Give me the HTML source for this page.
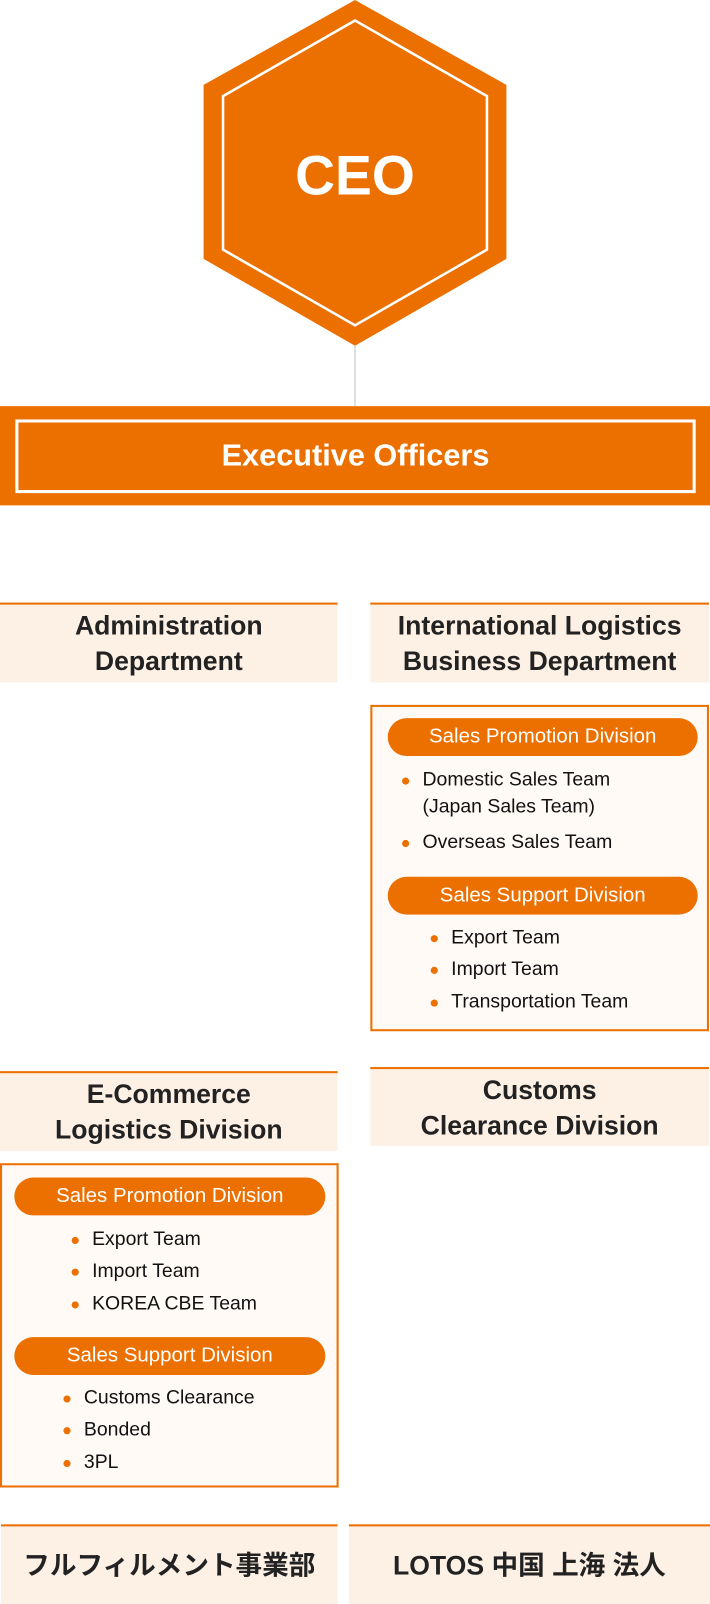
<!DOCTYPE html>
<html><head><meta charset="utf-8"><style>
*{margin:0;padding:0;box-sizing:border-box}
html,body{width:710px;height:1604px;overflow:hidden;background:#fff}
#w{position:absolute;left:0;top:0;width:694px;height:1568px;transform:scale(1.02305);transform-origin:0 0;font-family:"Liberation Sans","Noto Sans CJK JP",sans-serif}
.a{position:absolute}
.hd{position:absolute;background:#fdf0e5;border-top:2px solid #eb7000;display:flex;flex-direction:column;justify-content:center;align-items:center;text-align:center;color:#222;font-weight:bold;font-size:26px;line-height:35px}
.bx{position:absolute;border:2px solid #eb7000;background:#fffaf6}
.pill{position:absolute;background:#eb7000;color:#fff;border-radius:19px;height:37px;line-height:37px;text-align:center;font-size:20px}
.it{position:absolute;font-size:19px;color:#111;line-height:22px;white-space:nowrap}
.it:before{content:"";position:absolute;left:-20px;top:8px;width:7px;height:7px;border-radius:50%;background:#eb7000}
.nb:before{display:none}
</style></head><body><div id="w">
<svg class="a" style="left:0;top:0" width="694" height="400">
<polygon points="347,0 495,83 495,253 347,338 199,253 199,83" fill="#eb7000"/>
<polygon points="347,20 476,94 476,244 347,318 218,244 218,94" fill="none" stroke="#fff" stroke-width="2.5"/>
<line x1="347" y1="338" x2="347" y2="397" stroke="#d5d5d5" stroke-width="1.5"/>
<text x="347" y="190" text-anchor="middle" fill="#fff" font-size="54" font-weight="bold" font-family="Liberation Sans, sans-serif">CEO</text>
</svg>
<div class="a" style="left:0;top:397px;width:694px;height:97px;background:#eb7000"></div>
<div class="a" style="left:15px;top:410px;width:665px;height:72px;border:3px solid #fff;color:#fff;font-size:30px;font-weight:bold;text-align:center;line-height:66px">Executive Officers</div>

<div class="hd" style="left:0;top:589px;width:330px;height:78px">Administration<br>Department</div>
<div class="hd" style="left:362px;top:589px;width:331px;height:78px">International Logistics<br>Business Department</div>

<div class="bx" style="left:362px;top:689px;width:331px;height:319px"></div>
<div class="pill" style="left:379px;top:702px;width:303px">Sales Promotion Division</div>
<div class="it" style="left:413px;top:752px">Domestic Sales Team</div>
<div class="it nb" style="left:413px;top:778px">(Japan Sales Team)</div>
<div class="it" style="left:413px;top:813px">Overseas Sales Team</div>
<div class="pill" style="left:379px;top:857px;width:303px">Sales Support Division</div>
<div class="it" style="left:441px;top:906px">Export Team</div>
<div class="it" style="left:441px;top:937px">Import Team</div>
<div class="it" style="left:441px;top:969px">Transportation Team</div>

<div class="hd" style="left:0;top:1047px;width:330px;height:78px">E-Commerce<br>Logistics Division</div>
<div class="hd" style="left:362px;top:1043px;width:331px;height:77px">Customs<br>Clearance Division</div>

<div class="bx" style="left:0;top:1137px;width:331px;height:317px"></div>
<div class="pill" style="left:14px;top:1151px;width:304px">Sales Promotion Division</div>
<div class="it" style="left:90px;top:1201px">Export Team</div>
<div class="it" style="left:90px;top:1232px">Import Team</div>
<div class="it" style="left:90px;top:1264px">KOREA CBE Team</div>
<div class="pill" style="left:14px;top:1307px;width:304px">Sales Support Division</div>
<div class="it" style="left:82px;top:1356px">Customs Clearance</div>
<div class="it" style="left:82px;top:1387px">Bonded</div>
<div class="it" style="left:82px;top:1419px">3PL</div>

<div class="hd" style="left:1px;top:1490px;width:329px;height:78px;font-size:26px">フルフィルメント事業部</div>
<div class="hd" style="left:341px;top:1490px;width:353px;height:78px;font-size:26px">LOTOS 中国 上海 法人</div>
</div></body></html>
